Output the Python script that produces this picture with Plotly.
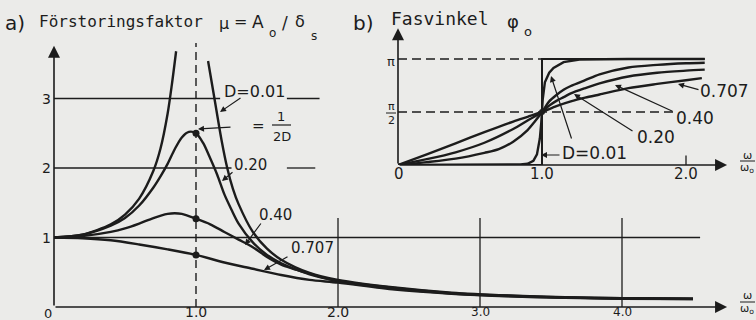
import plotly.graph_objects as go

W, H = 756, 320
INK = "#1c1c1c"
PAPER = "#ebebe9"
SANS = "DejaVu Sans"
MONO = "DejaVu Sans Mono"

# ---------------------------------------------------------------------------
# a) Förstoringsfaktor  mu = A0/delta_s  versus omega/omega0, per damping D
# ---------------------------------------------------------------------------
# D = 0.01 is drawn as two branches on either side of resonance
eta_a_001_lo = [0, 0.2, 0.4, 0.5, 0.6, 0.7, 0.75, 0.8, 0.83, 0.86]
mu_a_001_lo = [1.0, 1.04, 1.19, 1.33, 1.56, 1.96, 2.28, 2.78, 3.2, 3.68]
eta_a_001_hi = [1.085, 1.13, 1.18, 1.22, 1.26, 1.3, 1.4, 1.5, 1.6, 1.8, 2.0,
                2.4, 2.8, 3.2, 3.6, 4.0, 4.5]
mu_a_001_hi = [3.54, 3.0, 2.4, 2.0, 1.7, 1.48, 1.08, 0.84, 0.68, 0.49, 0.39,
               0.28, 0.205, 0.165, 0.14, 0.127, 0.12]

eta_a_020 = [0, 0.2, 0.4, 0.5, 0.6, 0.7, 0.75, 0.8, 0.85, 0.9, 0.95, 1.0,
             1.05, 1.1, 1.15, 1.2, 1.25, 1.3, 1.4, 1.5, 1.6, 1.8, 2.0,
             2.4, 2.8, 3.2, 3.6, 4.0, 4.5]
mu_a_020 = [1.0, 1.04, 1.17, 1.28, 1.46, 1.72, 1.88, 2.06, 2.27, 2.44, 2.52, 2.5,
            2.36, 2.14, 1.9, 1.62, 1.4, 1.2, 0.93, 0.75, 0.63, 0.47, 0.375,
            0.275, 0.2, 0.162, 0.138, 0.125, 0.118]

eta_a_040 = [0, 0.2, 0.4, 0.5, 0.6, 0.7, 0.8, 0.85, 0.9, 1.0,
             1.1, 1.2, 1.3, 1.4, 1.5, 1.6, 1.8, 2.0,
             2.4, 2.8, 3.2, 3.6, 4.0, 4.5]
mu_a_040 = [1.0, 1.02, 1.08, 1.13, 1.2, 1.28, 1.34, 1.35, 1.34, 1.27,
            1.19, 1.08, 0.97, 0.86, 0.72, 0.61, 0.48, 0.37,
            0.265, 0.195, 0.158, 0.135, 0.122, 0.116]

eta_a_071 = [0, 0.2, 0.4, 0.6, 0.8, 1.0, 1.2, 1.4, 1.6, 1.8, 2.0,
             2.4, 2.8, 3.2, 3.6, 4.0, 4.5]
mu_a_071 = [1.0, 0.99, 0.96, 0.9, 0.83, 0.75, 0.64, 0.55, 0.46, 0.39, 0.35,
            0.25, 0.19, 0.153, 0.132, 0.119, 0.113]

a_xticks = [1, 2, 3, 4]
a_xticklabels = ["1.0", "2.0", "3.0", "4.0"]
a_xticksizes = [14, 14, 12, 12]
a_yticks = [1, 2, 3]
a_yticklabels = ["1", "2", "3"]

# ---------------------------------------------------------------------------
# b) Fasvinkel phi0 (in units of pi) versus omega/omega0
# ---------------------------------------------------------------------------
eta_b_000 = [0, 1, 1, 2.13]
phi_b_000 = [0, 0, 1, 1]

eta_b_001 = [0, 0.6, 0.85, 0.9, 0.94, 0.965, 0.985, 0.995, 1.0, 1.005, 1.02,
             1.05, 1.08, 1.15, 1.26, 1.6, 2.13]
phi_b_001 = [0, 0, 0.005, 0.012, 0.04, 0.1, 0.25, 0.4, 0.5, 0.62, 0.78,
             0.87, 0.915, 0.97, 0.995, 1.0, 1.0]

eta_b_020 = [0, 0.2, 0.4, 0.6, 0.7, 0.8, 0.9, 0.95, 1.0,
             1.05, 1.1, 1.15, 1.2, 1.3, 1.4, 1.6, 1.8, 2.0, 2.13]
phi_b_020 = [0, 0.027, 0.06, 0.115, 0.15, 0.22, 0.33, 0.41, 0.5,
             0.6, 0.66, 0.71, 0.745, 0.8, 0.855, 0.92, 0.945, 0.96, 0.965]

eta_b_040 = [0, 0.2, 0.4, 0.6, 0.8, 0.9, 1.0, 1.05, 1.1, 1.15, 1.2, 1.3, 1.4,
             1.6, 1.8, 2.0, 2.13]
phi_b_040 = [0, 0.055, 0.12, 0.21, 0.34, 0.42, 0.5, 0.56, 0.605, 0.64, 0.675,
             0.725, 0.77, 0.835, 0.87, 0.89, 0.9]

eta_b_071 = [0, 0.2, 0.4, 0.6, 0.8, 0.9, 1.0, 1.1, 1.2, 1.3, 1.4, 1.6, 1.8,
             2.0, 2.11]
phi_b_071 = [0, 0.1, 0.205, 0.31, 0.41, 0.455, 0.5, 0.555, 0.6, 0.635, 0.665,
             0.725, 0.765, 0.8, 0.82]

b_xticks = [1, 2]
b_xticklabels = ["1.0", "2.0"]

# ---------------------------------------------------------------------------
# pixel frames of the two diagrams
# ---------------------------------------------------------------------------
A_LEFT, A_RIGHT, A_BOTTOM, A_TOP = 54, 740, 307, 30
A_XUNIT, A_YUNIT = 142.0, 69.5
B_LEFT, B_RIGHT, B_BOTTOM, B_TOP = 398, 740, 165, 20
B_XUNIT, B_YUNIT = 144.0, 106.0

fig = go.Figure()


def curve(x, y, xa, ya, shape="spline", width=2.4):
    fig.add_trace(go.Scatter(
        x=x, y=y, mode="lines", xaxis=xa, yaxis=ya,
        line=dict(color=INK, width=width, shape=shape, smoothing=0.8),
        hoverinfo="skip", showlegend=False))


def dots(x, y, xa, ya, size=7):
    fig.add_trace(go.Scatter(
        x=x, y=y, mode="markers", xaxis=xa, yaxis=ya,
        marker=dict(color=INK, size=size), hoverinfo="skip", showlegend=False))


def seg(xr, yr, x0, y0, x1, y1, width=1.3, dash=None):
    fig.add_shape(type="line", xref=xr, yref=yr, x0=x0, y0=y0, x1=x1, y1=y1,
                  line=dict(color=INK, width=width, dash=dash), layer="below")


def text(s, x, y, size=15, anchor="center", family=SANS):
    fig.add_annotation(text=s, x=x / W, y=1 - y / H, xref="paper", yref="paper",
                       xanchor=anchor, yanchor="middle", showarrow=False,
                       borderpad=0,
                       font=dict(family=family, size=size, color=INK))


def pbar(x0, x1, y, width=1.2):
    fig.add_shape(type="line", xref="paper", yref="paper",
                  x0=x0 / W, x1=x1 / W, y0=1 - y / H, y1=1 - y / H,
                  line=dict(color=INK, width=width))


def leader(tip, tail, size=1.0, width=1.2):
    fig.add_annotation(text="", x=tip[0] / W, y=1 - tip[1] / H,
                       xref="paper", yref="paper",
                       ax=tail[0] - tip[0], ay=tail[1] - tip[1],
                       showarrow=True, arrowhead=2, arrowsize=size,
                       arrowwidth=width, arrowcolor=INK, standoff=0)


def axis_arrow(xr, yr, x, y):
    fig.add_annotation(text="", x=x, y=y, xref=xr, yref=yr, ax=0, ay=0,
                       axref=xr, ayref=yr, showarrow=True, arrowhead=2,
                       arrowsize=1.5, arrowwidth=1.6, arrowcolor=INK, standoff=0)


# ----------------------------- diagram a ---------------------------------
A_DASH = "8px,5px"
seg("x", "y", 1, 0, 1, 3.8, width=1.4, dash=A_DASH)
for level, g0, g1 in [(3, 0, 1.17), (3, 1.64, 1.87), (2, 0, 1.25),
                      (2, 1.64, 1.84), (1, 0, 4.55)]:
    seg("x", "y", g0, level, g1, level)
for xv in a_xticks[1:]:
    seg("x", "y", xv, 0, xv, 1.28)

curve(eta_a_001_lo, mu_a_001_lo, "x", "y")
curve(eta_a_001_hi, mu_a_001_hi, "x", "y")
curve(eta_a_020, mu_a_020, "x", "y")
curve(eta_a_040, mu_a_040, "x", "y")
curve(eta_a_071, mu_a_071, "x", "y")
dots([1, 1, 1],
     [mu_a_020[eta_a_020.index(1.0)], mu_a_040[eta_a_040.index(1.0)],
      mu_a_071[eta_a_071.index(1.0)]], "x", "y")

axis_arrow("x", "y", 0, 3.76)
axis_arrow("x", "y", 4.74, 0)

for v, lab, sz in zip(a_xticks, a_xticklabels, a_xticksizes):
    fig.add_annotation(text=lab, x=v, y=1 - 312 / H, xref="x", yref="paper",
                       showarrow=False, xanchor="center", yanchor="middle",
                       borderpad=0, font=dict(family=SANS, size=sz, color=INK))
for v, lab in zip(a_yticks, a_yticklabels):
    fig.add_annotation(text=lab, x=46 / W, y=v, xref="paper", yref="y",
                       showarrow=False, xanchor="center", yanchor="middle",
                       borderpad=0, font=dict(family=SANS, size=14, color=INK))
text("0", 48, 313, 13)

# title a
text("a)", 15, 23, 20)
text("Förstoringsfaktor", 38, 22, 16, anchor="left", family=MONO)
text("μ", 224, 24, 16)
text("=", 240, 22, 16)
text("A", 258, 22, 17)
text("o", 272, 33, 12)
text("/", 285, 23, 17)
text("δ", 300, 21, 16)
text("s", 314, 36, 12)

# curve labels a
text("D=0.01", 223, 91, 16, anchor="left")
leader((220, 112), (242, 97))
text("=", 258, 126, 15)
text("1", 281, 116, 13)
pbar(272, 291, 125)
text("2D", 282, 136, 13)
leader((198, 129), (232, 127))
text("0.20", 233, 165, 15, anchor="left")
leader((222, 181), (234, 171))
text("0.40", 258, 215, 15, anchor="left")
leader((245, 245), (262, 222))
text("0.707", 290, 248, 15, anchor="left")
leader((264, 270), (289, 256))

# omega / omega0 label, a
text("ω", 747, 295, 11)
pbar(740, 755, 302, 1.0)
text("ω<sub>o</sub>", 747, 309, 11)

# ----------------------------- diagram b ---------------------------------
B_DASH = "9px,5px"
seg("x2", "y2", 0, 1, 1, 1, width=1.3, dash=B_DASH)
seg("x2", "y2", 0, 0.5, 1.91, 0.5, width=1.3, dash=B_DASH)
seg("x2", "y2", 2, 0, 2, 0.09, width=1.3)

curve(eta_b_000, phi_b_000, "x2", "y2", shape="linear", width=2.0)
curve(eta_b_001, phi_b_001, "x2", "y2", shape="linear")
curve(eta_b_020, phi_b_020, "x2", "y2")
curve(eta_b_040, phi_b_040, "x2", "y2")
curve(eta_b_071, phi_b_071, "x2", "y2")
dots([1], [phi_b_071[eta_b_071.index(1.0)]], "x2", "y2", size=6)

axis_arrow("x2", "y2", 0, 1.29)
axis_arrow("x2", "y2", 2.285, 0)

for v, lab in zip(b_xticks, b_xticklabels):
    fig.add_annotation(text=lab, x=v, y=1 - 174 / H, xref="x2", yref="paper",
                       showarrow=False, xanchor="center", yanchor="middle",
                       borderpad=0, font=dict(family=SANS, size=15, color=INK))
text("0", 399, 174, 15)
text("π", 391, 61, 13)
text("π", 391, 106, 11)
pbar(386, 396, 113, 1.0)
text("2", 391, 120, 11)

# title b
text("b)", 363, 23, 20)
text("Fasvinkel", 390, 18, 18, anchor="left", family=MONO)
text("φ", 513, 22, 18)
text("o", 528, 32, 13)

# curve labels b
text("0.707", 699, 91, 17, anchor="left")
leader((678, 84), (700, 90))
text("0.40", 675, 118, 17, anchor="left")
leader((615, 85), (674, 112))
text("0.20", 636, 137, 17, anchor="left")
leader((574, 94), (634, 132))
text("D=0.01", 561, 153, 17, anchor="left")
leader((551, 76), (572, 140))
leader((541, 155), (561, 155))

# omega / omega0 label, b
text("ω", 747, 155, 11)
pbar(740, 755, 161, 1.0)
text("ω<sub>o</sub>", 747, 168, 11)

# ----------------------------- layout ------------------------------------
hidden = dict(visible=False, showgrid=False, zeroline=False, fixedrange=True)
fig.update_layout(
    width=W, height=H,
    margin=dict(l=0, r=0, t=0, b=0),
    paper_bgcolor=PAPER, plot_bgcolor="rgba(0,0,0,0)",
    showlegend=False,
    xaxis=dict(domain=[A_LEFT / W, A_RIGHT / W],
               range=[0, (A_RIGHT - A_LEFT) / A_XUNIT], anchor="y", **hidden),
    yaxis=dict(domain=[1 - A_BOTTOM / H, 1 - A_TOP / H],
               range=[0, (A_BOTTOM - A_TOP) / A_YUNIT], anchor="x", **hidden),
    xaxis2=dict(domain=[B_LEFT / W, B_RIGHT / W],
                range=[0, (B_RIGHT - B_LEFT) / B_XUNIT], anchor="y2", **hidden),
    yaxis2=dict(domain=[1 - B_BOTTOM / H, 1 - B_TOP / H],
                range=[0, (B_BOTTOM - B_TOP) / B_YUNIT], anchor="x2", **hidden),
)

fig.write_html("out.html")
